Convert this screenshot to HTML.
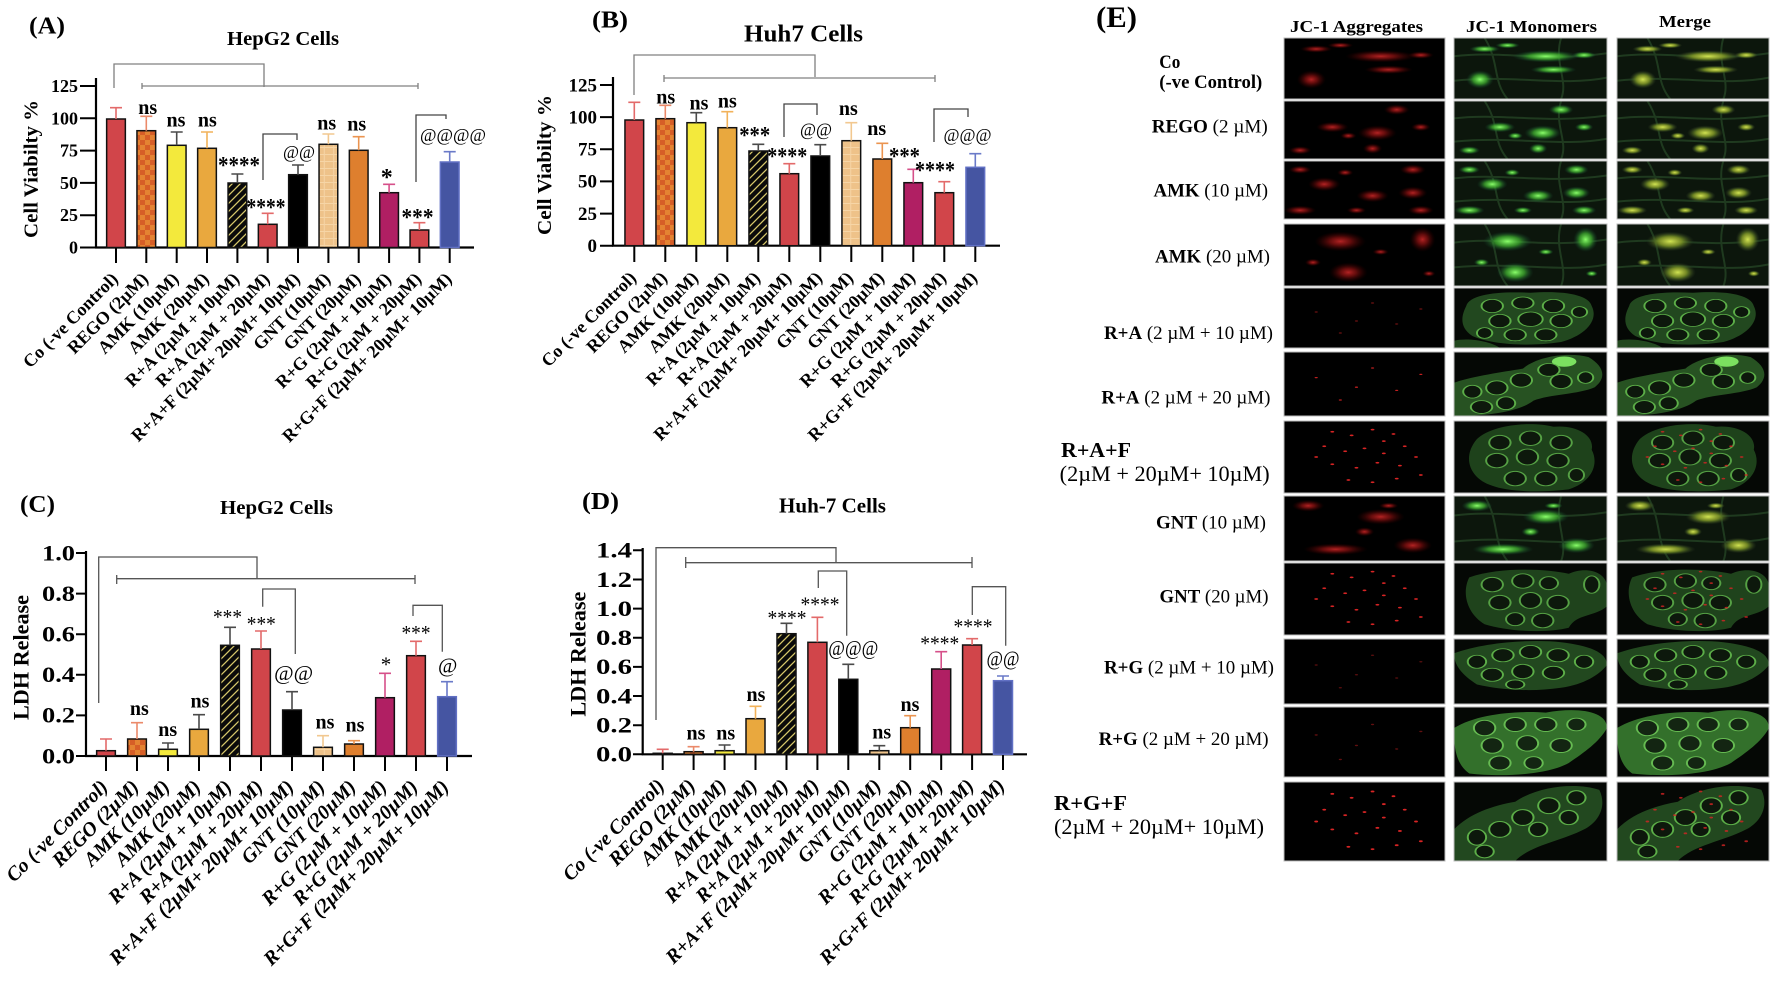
<!DOCTYPE html>
<html><head><meta charset="utf-8"><style>
html,body{margin:0;padding:0;background:#fff;}
svg{display:block;font-family:"Liberation Serif","DejaVu Serif",serif;}
</style></head><body>
<svg xmlns="http://www.w3.org/2000/svg" xmlns:xlink="http://www.w3.org/1999/xlink" width="1772" height="993" viewBox="0 0 1772 993">
<defs>
<pattern id="chk" patternUnits="userSpaceOnUse" width="10" height="10"><rect width="10" height="10" fill="#e48332"/><rect width="5" height="5" fill="#d65e27"/><rect x="5" y="5" width="5" height="5" fill="#d65e27"/></pattern>
<pattern id="hat" patternUnits="userSpaceOnUse" width="8" height="8"><rect width="8" height="8" fill="#0a0a0a"/><path d="M0,8 L8,0 M-1,1 L1,-1 M7,9 L9,7" stroke="#d6c76a" stroke-width="1.3"/></pattern>
<pattern id="tan" patternUnits="userSpaceOnUse" width="9.4" height="7"><rect width="9.4" height="7" fill="#eec289"/><path d="M0,0.5 H9.4 M4.7,0 V7" stroke="#f6d5a6" stroke-width="1"/></pattern>
<radialGradient id="gR"><stop offset="0" stop-color="#f03030"/><stop offset=".4" stop-color="#c01818" stop-opacity=".7"/><stop offset="1" stop-color="#500" stop-opacity="0"/></radialGradient>
<radialGradient id="gG"><stop offset="0" stop-color="#8aff6a"/><stop offset=".5" stop-color="#40b030" stop-opacity=".75"/><stop offset="1" stop-color="#143" stop-opacity="0"/></radialGradient>
<radialGradient id="gY"><stop offset="0" stop-color="#ffd040"/><stop offset=".45" stop-color="#d08020" stop-opacity=".7"/><stop offset="1" stop-color="#400" stop-opacity="0"/></radialGradient>

<symbol id="web" viewBox="0 0 100 100" preserveAspectRatio="none"><path d="M0,30 C30,20 60,40 100,25 M0,70 C40,60 70,80 100,65 M20,0 C30,40 25,70 35,100 M70,0 C65,40 75,70 70,100" stroke="#1f3a1f" stroke-width="2" fill="none" vector-effect="non-scaling-stroke"/></symbol>

<symbol id="sp1" viewBox="0 0 100 100" preserveAspectRatio="none"><ellipse cx="20" cy="18" rx="10" ry="6"/><ellipse cx="60" cy="30" rx="22" ry="10"/><ellipse cx="65" cy="52" rx="15" ry="7"/><ellipse cx="17" cy="68" rx="9" ry="15"/><ellipse cx="35" cy="12" rx="8" ry="5"/><ellipse cx="85" cy="28" rx="8" ry="6"/></symbol>
<symbol id="sp2" viewBox="0 0 100 100" preserveAspectRatio="none"><ellipse cx="70" cy="15" rx="8" ry="9"/><ellipse cx="30" cy="45" rx="10" ry="9"/><ellipse cx="58" cy="55" rx="12" ry="13"/><ellipse cx="55" cy="82" rx="6" ry="9"/><ellipse cx="85" cy="45" rx="6" ry="7"/><ellipse cx="10" cy="85" rx="7" ry="7"/><ellipse cx="40" cy="60" rx="5" ry="6"/></symbol>
<symbol id="sp3" viewBox="0 0 100 100" preserveAspectRatio="none"><ellipse cx="25" cy="40" rx="10" ry="12"/><ellipse cx="10" cy="15" rx="7" ry="7"/><ellipse cx="80" cy="15" rx="8" ry="9"/><ellipse cx="55" cy="60" rx="10" ry="11"/><ellipse cx="80" cy="55" rx="9" ry="11"/><ellipse cx="10" cy="85" rx="10" ry="8"/><ellipse cx="85" cy="85" rx="8" ry="8"/><ellipse cx="45" cy="85" rx="6" ry="6"/><ellipse cx="38" cy="20" rx="5" ry="6"/></symbol>
<symbol id="sp4" viewBox="0 0 100 100" preserveAspectRatio="none"><ellipse cx="35" cy="28" rx="16" ry="16"/><ellipse cx="86" cy="25" rx="8" ry="20"/><ellipse cx="40" cy="78" rx="12" ry="16"/><ellipse cx="18" cy="62" rx="5" ry="6"/><ellipse cx="60" cy="45" rx="5" ry="5"/><ellipse cx="90" cy="80" rx="4" ry="5"/></symbol>
<symbol id="sp8" viewBox="0 0 100 100" preserveAspectRatio="none"><ellipse cx="15" cy="15" rx="10" ry="9"/><ellipse cx="60" cy="32" rx="15" ry="12"/><ellipse cx="32" cy="82" rx="20" ry="9"/><ellipse cx="80" cy="76" rx="12" ry="12"/><ellipse cx="50" cy="55" rx="6" ry="7"/><ellipse cx="65" cy="15" rx="6" ry="5"/></symbol>

<symbol id="cl5" viewBox="0 0 100 100" preserveAspectRatio="none"><path d="M8,30 C10,10 30,5 50,8 C70,4 88,10 90,30 C95,55 85,80 70,90 C50,98 25,95 12,80 C3,65 5,45 8,30Z M0,88 C10,82 25,90 30,100 L0,100Z" fill="#22481f"/><g fill="#0d180c" stroke="#5cae48" stroke-width="1.3" vector-effect="non-scaling-stroke"><ellipse cx="25" cy="30" rx="7" ry="11"/><ellipse cx="45" cy="25" rx="7" ry="10"/><ellipse cx="65" cy="30" rx="7" ry="11"/><ellipse cx="30" cy="55" rx="7" ry="11"/><ellipse cx="50" cy="52" rx="8" ry="12"/><ellipse cx="70" cy="55" rx="7" ry="11"/><ellipse cx="40" cy="78" rx="7" ry="10"/><ellipse cx="60" cy="78" rx="7" ry="10"/><ellipse cx="20" cy="75" rx="5" ry="9"/><ellipse cx="82" cy="40" rx="5" ry="9"/></g></symbol>
<symbol id="cl6" viewBox="0 0 100 100" preserveAspectRatio="none"><path d="M0,48 C12,38 30,32 45,26 C55,6 75,0 88,8 C98,22 100,40 92,55 C82,66 62,66 52,76 C42,94 22,100 0,100Z" fill="#275222"/><ellipse cx="72" cy="15" rx="8" ry="8" fill="#7be060"/><g fill="#0d180c" stroke="#5cae48" stroke-width="1.3" vector-effect="non-scaling-stroke"><ellipse cx="12" cy="62" rx="6" ry="10"/><ellipse cx="28" cy="56" rx="7" ry="11"/><ellipse cx="44" cy="44" rx="7" ry="11"/><ellipse cx="62" cy="28" rx="7" ry="10"/><ellipse cx="70" cy="46" rx="7" ry="11"/><ellipse cx="18" cy="86" rx="7" ry="10"/><ellipse cx="34" cy="80" rx="6" ry="10"/><ellipse cx="86" cy="40" rx="5" ry="9"/></g></symbol>
<symbol id="cl7" viewBox="0 0 100 100" preserveAspectRatio="none"><path d="M15,25 C25,5 50,0 65,8 C80,5 92,20 90,40 C95,60 90,85 75,95 C55,100 35,98 25,90 C10,80 5,50 15,25Z" fill="#1e421b"/><g fill="#0d180c" stroke="#55a044" stroke-width="1.3" vector-effect="non-scaling-stroke"><ellipse cx="30" cy="30" rx="7" ry="10"/><ellipse cx="50" cy="24" rx="7" ry="10"/><ellipse cx="70" cy="30" rx="7" ry="10"/><ellipse cx="28" cy="55" rx="7" ry="10"/><ellipse cx="48" cy="50" rx="7" ry="11"/><ellipse cx="68" cy="55" rx="7" ry="10"/><ellipse cx="40" cy="80" rx="7" ry="10"/><ellipse cx="60" cy="80" rx="7" ry="10"/><ellipse cx="80" cy="75" rx="5" ry="9"/></g></symbol>
<symbol id="cl9" viewBox="0 0 100 100" preserveAspectRatio="none"><path d="M10,20 C30,5 60,8 75,15 C85,5 98,10 100,30 L100,60 C92,75 80,70 75,90 C60,98 35,95 20,85 C8,70 5,40 10,20Z" fill="#1f431c"/><g fill="#0d180c" stroke="#55a044" stroke-width="1.3" vector-effect="non-scaling-stroke"><ellipse cx="25" cy="30" rx="7" ry="10"/><ellipse cx="45" cy="25" rx="7" ry="10"/><ellipse cx="62" cy="28" rx="6" ry="9"/><ellipse cx="30" cy="55" rx="7" ry="10"/><ellipse cx="50" cy="52" rx="7" ry="11"/><ellipse cx="68" cy="55" rx="7" ry="10"/><ellipse cx="40" cy="78" rx="6" ry="9"/><ellipse cx="58" cy="80" rx="7" ry="10"/><ellipse cx="90" cy="30" rx="5" ry="12"/></g></symbol>
<symbol id="cl10" viewBox="0 0 100 100" preserveAspectRatio="none"><path d="M0,22 C20,5 50,0 70,5 C88,10 100,20 100,40 C95,55 85,70 70,75 C50,82 30,78 15,70 C5,55 0,40 0,22Z" fill="#22481f"/><g fill="#0d180c" stroke="#5cae48" stroke-width="1.3" vector-effect="non-scaling-stroke"><ellipse cx="15" cy="35" rx="6" ry="10"/><ellipse cx="32" cy="25" rx="7" ry="10"/><ellipse cx="50" cy="20" rx="7" ry="10"/><ellipse cx="68" cy="25" rx="7" ry="10"/><ellipse cx="85" cy="35" rx="6" ry="10"/><ellipse cx="25" cy="55" rx="7" ry="10"/><ellipse cx="45" cy="50" rx="7" ry="11"/><ellipse cx="65" cy="52" rx="7" ry="10"/><ellipse cx="40" cy="70" rx="6" ry="7"/></g></symbol>
<symbol id="cl11" viewBox="0 0 100 100" preserveAspectRatio="none"><path d="M0,30 C15,10 40,5 60,8 C80,0 100,5 100,30 C95,50 85,65 75,80 C60,98 30,100 10,95 C0,80 0,50 0,30Z" fill="#33702b"/><g fill="#132512" stroke="#66bb52" stroke-width="1.3" vector-effect="non-scaling-stroke"><ellipse cx="20" cy="30" rx="7" ry="11"/><ellipse cx="40" cy="25" rx="7" ry="10"/><ellipse cx="60" cy="25" rx="7" ry="10"/><ellipse cx="80" cy="25" rx="6" ry="9"/><ellipse cx="25" cy="55" rx="7" ry="11"/><ellipse cx="48" cy="52" rx="7" ry="11"/><ellipse cx="70" cy="55" rx="7" ry="10"/><ellipse cx="30" cy="80" rx="7" ry="10"/><ellipse cx="52" cy="80" rx="6" ry="9"/></g></symbol>
<symbol id="cl12" viewBox="0 0 100 100" preserveAspectRatio="none"><path d="M0,60 C10,40 25,30 40,25 C55,5 80,0 95,10 C100,30 95,50 85,60 C70,75 50,80 40,100 L0,100Z" fill="#22481f"/><g fill="#0d180c" stroke="#5cae48" stroke-width="1.3" vector-effect="non-scaling-stroke"><ellipse cx="15" cy="70" rx="6" ry="10"/><ellipse cx="30" cy="60" rx="7" ry="10"/><ellipse cx="45" cy="45" rx="7" ry="10"/><ellipse cx="62" cy="30" rx="7" ry="10"/><ellipse cx="80" cy="20" rx="6" ry="9"/><ellipse cx="75" cy="45" rx="6" ry="9"/><ellipse cx="20" cy="88" rx="6" ry="8"/><ellipse cx="55" cy="60" rx="6" ry="9"/></g></symbol>

<symbol id="rdF" viewBox="0 0 100 100" preserveAspectRatio="none"><g fill="#c42020"><circle cx="20" cy="40" r="1"/><circle cx="55" cy="25" r="1"/><circle cx="70" cy="60" r="1"/><circle cx="35" cy="75" r="1"/><circle cx="85" cy="35" r="1"/><circle cx="45" cy="55" r="1"/></g></symbol>
<symbol id="rdM" viewBox="0 0 100 100" preserveAspectRatio="none"><g fill="#d82424"><circle cx="30" cy="15" r="1.2"/><circle cx="42" cy="20" r="1.2"/><circle cx="55" cy="12" r="1.2"/><circle cx="68" cy="18" r="1.2"/><circle cx="25" cy="35" r="1.2"/><circle cx="38" cy="42" r="1.2"/><circle cx="50" cy="38" r="1.2"/><circle cx="62" cy="45" r="1.2"/><circle cx="75" cy="35" r="1.2"/><circle cx="30" cy="60" r="1.2"/><circle cx="45" cy="65" r="1.2"/><circle cx="58" cy="58" r="1.2"/><circle cx="72" cy="62" r="1.2"/><circle cx="82" cy="50" r="1.2"/><circle cx="40" cy="82" r="1.2"/><circle cx="55" cy="85" r="1.2"/><circle cx="70" cy="80" r="1.2"/><circle cx="85" cy="75" r="1.2"/><circle cx="20" cy="50" r="1.2"/><circle cx="62" cy="28" r="1.2"/></g></symbol>
</defs>

<rect width="1772" height="993" fill="#fff"/>

<!-- ================= PANEL A ================= -->
<text x="29" y="33.5" font-size="24" font-weight="bold" textLength="36" lengthAdjust="spacingAndGlyphs">(A)</text>
<text x="283" y="45" font-size="20" font-weight="bold" text-anchor="middle" textLength="112" lengthAdjust="spacingAndGlyphs">HepG2 Cells</text>
<text transform="translate(37.5,169) rotate(-90)" font-size="20" font-weight="bold" text-anchor="middle" textLength="138" lengthAdjust="spacingAndGlyphs">Cell Viabilty %</text>
<g font-size="18" font-weight="bold" text-anchor="end">
<text x="78" y="253.5">0</text><text x="78" y="221.2">25</text><text x="78" y="188.9">50</text><text x="78" y="156.6">75</text><text x="78" y="124.3">100</text><text x="78" y="92">125</text>
</g>
<g stroke="#000" stroke-width="2" fill="none">
<path d="M80,247.5H96 M80,215.2H96 M80,182.9H96 M80,150.6H96 M80,118.3H96 M80,86H96"/>
<path d="M96,78 V248.5 M95,247.5 H474" stroke-width="2.2"/>
<path d="M116,248V263 M146.3,248V263 M176.7,248V263 M207,248V263 M237.4,248V263 M267.7,248V263 M298,248V263 M328.4,248V263 M358.7,248V263 M389.1,248V263 M419.4,248V263 M449.7,248V263"/>
</g>
<g stroke="#111" stroke-width="1.5">
<rect x="106.65" y="119" width="18.7" height="128.5" fill="#d1454a"/>
<rect x="136.95" y="130.7" width="18.7" height="116.8" fill="url(#chk)"/>
<rect x="167.35" y="145.3" width="18.7" height="102.2" fill="#f3e93c"/>
<rect x="197.65" y="148.3" width="18.7" height="99.2" fill="#e9a83e"/>
<rect x="228.05" y="183" width="18.7" height="64.5" fill="url(#hat)"/>
<rect x="258.35" y="224.3" width="18.7" height="23.2" fill="#d1454a"/>
<rect x="288.65" y="174.7" width="18.7" height="72.8" fill="#000"/>
<rect x="319.05" y="144.3" width="18.7" height="103.2" fill="url(#tan)"/>
<rect x="349.35" y="150.3" width="18.7" height="97.2" fill="#de7f2e"/>
<rect x="379.75" y="192.7" width="18.7" height="54.8" fill="#b01f63"/>
<rect x="410.05" y="230" width="18.7" height="17.5" fill="#d1454a"/>
<rect x="440.35" y="162" width="18.7" height="85.5" fill="#4555a2" stroke="#6170c4"/>
</g>
<g stroke-width="1.6" fill="none">
<path d="M116,119V107.7 M110,107.7H122" stroke="#e36a6a"/>
<path d="M146.3,130.7V116.3 M140.3,116.3H152.3" stroke="#eb8a6a"/>
<path d="M176.7,145.3V132 M170.7,132H182.7" stroke="#4a4a4a"/>
<path d="M207,148.3V132 M201,132H213" stroke="#f2b25a"/>
<path d="M237.4,183V174 M231.4,174H243.4" stroke="#4a4a4a"/>
<path d="M267.7,224.3V213.3 M261.7,213.3H273.7" stroke="#e36a6a"/>
<path d="M298,174.7V165 M292,165H304" stroke="#4a4a4a"/>
<path d="M328.4,144.3V134 M322.4,134H334.4" stroke="#f2c890"/>
<path d="M358.7,150.3V136.7 M352.7,136.7H364.7" stroke="#eb9450"/>
<path d="M389.1,192.7V184.3 M383.1,184.3H395.1" stroke="#d6508a"/>
<path d="M419.4,230V222.7 M413.4,222.7H425.4" stroke="#e36a6a"/>
<path d="M449.7,162V151.7 M443.7,151.7H455.7" stroke="#6a7ac8"/>
</g>
<g fill="none" stroke-width="1.3">
<path d="M114,88V64H264V87" stroke="#808080"/>
<path d="M142,86H418 M142,83V89 M418,83V89" stroke="#808080"/>
<path d="M263,180V134H297V140" stroke="#444"/>
<path d="M416,182V115H446V119" stroke="#444"/>
</g>
<g font-size="20" font-weight="bold" text-anchor="middle">
<text x="147.7" y="114">ns</text><text x="176" y="126.7">ns</text><text x="207.3" y="126.7">ns</text><text x="326.7" y="129.3">ns</text><text x="356.7" y="130.7">ns</text>
</g>
<g font-size="24" font-weight="bold" text-anchor="middle">
<text x="239" y="173.2" textLength="42" lengthAdjust="spacingAndGlyphs">****</text>
<text x="266" y="214.8" textLength="39" lengthAdjust="spacingAndGlyphs">****</text>
<text x="386.7" y="184.8">*</text>
<text x="417.5" y="224.8" textLength="32" lengthAdjust="spacingAndGlyphs">***</text>
</g>
<g font-size="18" text-anchor="middle">
<text x="299" y="157.8" textLength="32" lengthAdjust="spacingAndGlyphs">@@</text>
<text x="453" y="141.2" textLength="66" lengthAdjust="spacingAndGlyphs">@@@@</text>
</g>
<g font-size="18" font-weight="bold" text-anchor="end">
<text transform="translate(119,280) rotate(-45)">Co (-ve Control)</text>
<text transform="translate(149.3,280) rotate(-45)">REGO (2µM)</text>
<text transform="translate(179.7,280) rotate(-45)">AMK (10µM)</text>
<text transform="translate(210,280) rotate(-45)">AMK (20µM)</text>
<text transform="translate(240.4,280) rotate(-45)">R+A (2µM + 10µM)</text>
<text transform="translate(270.7,280) rotate(-45)">R+A (2µM + 20µM)</text>
<text transform="translate(301,280) rotate(-45)">R+A+F (2µM+ 20µM+ 10µM)</text>
<text transform="translate(331.4,280) rotate(-45)">GNT (10µM)</text>
<text transform="translate(361.7,280) rotate(-45)">GNT (20µM)</text>
<text transform="translate(392.1,280) rotate(-45)">R+G (2µM + 10µM)</text>
<text transform="translate(422.4,280) rotate(-45)">R+G (2µM + 20µM)</text>
<text transform="translate(452.7,280) rotate(-45)">R+G+F (2µM+ 20µM+ 10µM)</text>
</g>

<!-- ================= PANEL B ================= -->
<text x="592" y="27.5" font-size="24" font-weight="bold" textLength="36" lengthAdjust="spacingAndGlyphs">(B)</text>
<text x="803.5" y="41.5" font-size="24" font-weight="bold" text-anchor="middle" textLength="119" lengthAdjust="spacingAndGlyphs">Huh7 Cells</text>
<text transform="translate(551,165) rotate(-90)" font-size="20" font-weight="bold" text-anchor="middle" textLength="140" lengthAdjust="spacingAndGlyphs">Cell Viabilty %</text>
<g font-size="19" font-weight="bold" text-anchor="end">
<text x="597" y="252">0</text><text x="597" y="219.9">25</text><text x="597" y="187.7">50</text><text x="597" y="155.6">75</text><text x="597" y="123.4">100</text><text x="597" y="91.3">125</text>
</g>
<g stroke="#000" stroke-width="2" fill="none">
<path d="M600,245.7H613 M600,213.6H613 M600,181.4H613 M600,149.3H613 M600,117.1H613 M600,85H613"/>
<path d="M613,77 V246.8 M612,245.7 H1000" stroke-width="2.2"/>
<path d="M634.3,246V262 M665.3,246V262 M696.3,246V262 M727.3,246V262 M758.3,246V262 M789.3,246V262 M820.3,246V262 M851.3,246V262 M882.3,246V262 M913.3,246V262 M944.3,246V262 M975.3,246V262"/>
</g>
<g stroke="#111" stroke-width="1.5">
<rect x="624.95" y="120" width="18.7" height="125.7" fill="#d1454a"/>
<rect x="655.95" y="118.7" width="18.7" height="127" fill="url(#chk)"/>
<rect x="686.95" y="122.7" width="18.7" height="123" fill="#f3e93c"/>
<rect x="717.95" y="127.7" width="18.7" height="118" fill="#e9a83e"/>
<rect x="748.95" y="151" width="18.7" height="94.7" fill="url(#hat)"/>
<rect x="779.95" y="173.7" width="18.7" height="72" fill="#d1454a"/>
<rect x="810.95" y="156" width="18.7" height="89.7" fill="#000"/>
<rect x="841.95" y="140.7" width="18.7" height="105" fill="url(#tan)"/>
<rect x="872.95" y="159" width="18.7" height="86.7" fill="#de7f2e"/>
<rect x="903.95" y="182.7" width="18.7" height="63" fill="#b01f63"/>
<rect x="934.95" y="192.7" width="18.7" height="53" fill="#d1454a"/>
<rect x="965.95" y="167.3" width="18.7" height="78.4" fill="#4555a2" stroke="#6170c4"/>
</g>
<g stroke-width="1.6" fill="none">
<path d="M634.3,120V102.3 M628.3,102.3H640.3" stroke="#e36a6a"/>
<path d="M665.3,118.7V105.3 M659.3,105.3H671.3" stroke="#eb8a6a"/>
<path d="M696.3,122.7V112.7 M690.3,112.7H702.3" stroke="#4a4a4a"/>
<path d="M727.3,127.7V111.7 M721.3,111.7H733.3" stroke="#f2b25a"/>
<path d="M758.3,151V144.3 M752.3,144.3H764.3" stroke="#4a4a4a"/>
<path d="M789.3,173.7V163.7 M783.3,163.7H795.3" stroke="#e36a6a"/>
<path d="M820.3,156V144.7 M814.3,144.7H826.3" stroke="#4a4a4a"/>
<path d="M851.3,140.7V122.7 M845.3,122.7H857.3" stroke="#f2c890"/>
<path d="M882.3,159V143.3 M876.3,143.3H888.3" stroke="#eb9450"/>
<path d="M913.3,182.7V169.3 M907.3,169.3H919.3" stroke="#d6508a"/>
<path d="M944.3,192.7V181.7 M938.3,181.7H950.3" stroke="#e36a6a"/>
<path d="M975.3,167.3V153.7 M969.3,153.7H981.3" stroke="#6a7ac8"/>
</g>
<g fill="none" stroke-width="1.3">
<path d="M634,95V55H815V77" stroke="#808080"/>
<path d="M664,78H935 M664,75V82 M935,75V82" stroke="#808080"/>
<path d="M784,137V104H817V115" stroke="#444"/>
<path d="M934,142V109H968V117" stroke="#444"/>
</g>
<g font-size="20" font-weight="bold" text-anchor="middle">
<text x="665.7" y="103.3">ns</text><text x="699" y="109.3">ns</text><text x="727.3" y="107.3">ns</text><text x="848.3" y="115">ns</text><text x="876.7" y="135">ns</text>
</g>
<g font-size="24" font-weight="bold" text-anchor="middle">
<text x="754.7" y="143.2" textLength="31" lengthAdjust="spacingAndGlyphs">***</text>
<text x="787.3" y="164.2" textLength="40" lengthAdjust="spacingAndGlyphs">****</text>
<text x="904.5" y="164.2" textLength="31" lengthAdjust="spacingAndGlyphs">***</text>
<text x="935" y="178.2" textLength="40" lengthAdjust="spacingAndGlyphs">****</text>
</g>
<g font-size="18" text-anchor="middle">
<text x="816" y="135.5" textLength="32" lengthAdjust="spacingAndGlyphs">@@</text>
<text x="967.5" y="141.2" textLength="48" lengthAdjust="spacingAndGlyphs">@@@</text>
</g>
<g font-size="18" font-weight="bold" text-anchor="end">
<text transform="translate(637.3,279) rotate(-45)">Co (-ve Control)</text>
<text transform="translate(668.3,279) rotate(-45)">REGO (2µM)</text>
<text transform="translate(699.3,279) rotate(-45)">AMK (10µM)</text>
<text transform="translate(730.3,279) rotate(-45)">AMK (20µM)</text>
<text transform="translate(761.3,279) rotate(-45)">R+A (2µM + 10µM)</text>
<text transform="translate(792.3,279) rotate(-45)">R+A (2µM + 20µM)</text>
<text transform="translate(823.3,279) rotate(-45)">R+A+F (2µM+ 20µM+ 10µM)</text>
<text transform="translate(854.3,279) rotate(-45)">GNT (10µM)</text>
<text transform="translate(885.3,279) rotate(-45)">GNT (20µM)</text>
<text transform="translate(916.3,279) rotate(-45)">R+G (2µM + 10µM)</text>
<text transform="translate(947.3,279) rotate(-45)">R+G (2µM + 20µM)</text>
<text transform="translate(978.3,279) rotate(-45)">R+G+F (2µM+ 20µM+ 10µM)</text>
</g>

<!-- ================= PANEL C ================= -->
<text x="20" y="512" font-size="24" font-weight="bold" textLength="35" lengthAdjust="spacingAndGlyphs">(C)</text>
<text x="276.5" y="514" font-size="20" font-weight="bold" text-anchor="middle" textLength="113" lengthAdjust="spacingAndGlyphs">HepG2 Cells</text>
<text transform="translate(28.5,657.5) rotate(-90)" font-size="22" font-weight="bold" text-anchor="middle" textLength="125" lengthAdjust="spacingAndGlyphs">LDH Release</text>
<g font-size="22" font-weight="bold" text-anchor="end">
<text x="75" y="763.3" textLength="33" lengthAdjust="spacingAndGlyphs">0.0</text>
<text x="75" y="722.7" textLength="33" lengthAdjust="spacingAndGlyphs">0.2</text>
<text x="75" y="682.1" textLength="33" lengthAdjust="spacingAndGlyphs">0.4</text>
<text x="75" y="641.5" textLength="33" lengthAdjust="spacingAndGlyphs">0.6</text>
<text x="75" y="600.9" textLength="33" lengthAdjust="spacingAndGlyphs">0.8</text>
<text x="75" y="560.3" textLength="33" lengthAdjust="spacingAndGlyphs">1.0</text>
</g>
<g stroke="#000" stroke-width="2" fill="none">
<path d="M76,756H86 M76,715.4H86 M76,674.8H86 M76,634.2H86 M76,593.6H86 M76,553H86"/>
<path d="M86,551 V757 M85,756 H472" stroke-width="2.2"/>
<path d="M106,756V771 M137,756V771 M168,756V771 M199,756V771 M230,756V771 M261,756V771 M292,756V771 M323,756V771 M354,756V771 M385,756V771 M416,756V771 M447,756V771"/>
</g>
<g stroke="#111" stroke-width="1.5">
<rect x="96.65" y="750.7" width="18.7" height="5.3" fill="#d1454a"/>
<rect x="127.65" y="739" width="18.7" height="17" fill="url(#chk)"/>
<rect x="158.65" y="749.3" width="18.7" height="6.7" fill="#f3e93c"/>
<rect x="189.65" y="729.3" width="18.7" height="26.7" fill="#e9a83e"/>
<rect x="220.65" y="645.3" width="18.7" height="110.7" fill="url(#hat)"/>
<rect x="251.65" y="649" width="18.7" height="107" fill="#d1454a"/>
<rect x="282.65" y="710" width="18.7" height="46" fill="#000"/>
<rect x="313.65" y="747.3" width="18.7" height="8.7" fill="url(#tan)"/>
<rect x="344.65" y="744" width="18.7" height="12" fill="#de7f2e"/>
<rect x="375.65" y="697.7" width="18.7" height="58.3" fill="#b01f63"/>
<rect x="406.65" y="655.7" width="18.7" height="100.3" fill="#d1454a"/>
<rect x="437.65" y="696.7" width="18.7" height="59.3" fill="#4555a2" stroke="#6170c4"/>
</g>
<g stroke-width="1.6" fill="none">
<path d="M106,750.7V739 M100,739H112" stroke="#e36a6a"/>
<path d="M137,739V722.7 M131,722.7H143" stroke="#eb8a6a"/>
<path d="M168,749.3V743 M162,743H174" stroke="#4a4a4a"/>
<path d="M199,729.3V714.7 M193,714.7H205" stroke="#4a4a4a"/>
<path d="M230,645.3V627.3 M224,627.3H236" stroke="#4a4a4a"/>
<path d="M261,649V631 M255,631H267" stroke="#e36a6a"/>
<path d="M292,710V691.7 M286,691.7H298" stroke="#4a4a4a"/>
<path d="M323,747.3V735.7 M317,735.7H329" stroke="#f2c890"/>
<path d="M354,744V740.7 M348,740.7H360" stroke="#eb9450"/>
<path d="M385,697.7V673.3 M379,673.3H391" stroke="#d6508a"/>
<path d="M416,655.7V641.3 M410,641.3H422" stroke="#e36a6a"/>
<path d="M447,696.7V681.7 M441,681.7H453" stroke="#6a7ac8"/>
</g>
<g fill="none" stroke-width="1.3" stroke="#555">
<path d="M98.7,703V557H257V579"/>
<path d="M116.7,578.7H415 M116.7,575V584 M415,575V584"/>
<path d="M262.7,606.7V589H295.3V654"/>
<path d="M413,616V605.3H442.3V651.7"/>
</g>
<g font-size="20" font-weight="bold" text-anchor="middle">
<text x="139.3" y="715">ns</text><text x="167.7" y="736">ns</text><text x="200" y="707.7">ns</text><text x="325" y="728.3">ns</text><text x="355" y="731.7">ns</text>
</g>
<g font-size="21" text-anchor="middle">
<text x="227.5" y="624" textLength="29" lengthAdjust="spacingAndGlyphs">***</text>
<text x="261.3" y="631" textLength="29" lengthAdjust="spacingAndGlyphs">***</text>
<text x="416" y="640" textLength="29" lengthAdjust="spacingAndGlyphs">***</text>
<text x="386" y="671.7">*</text>
<text x="293.7" y="680" textLength="39" lengthAdjust="spacingAndGlyphs">@@</text>
<text x="447.7" y="672.7">@</text>
</g>
<g font-size="20" font-weight="bold" font-style="italic" text-anchor="end">
<text transform="translate(109,788) rotate(-45)">Co (-ve Control)</text>
<text transform="translate(140,788) rotate(-45)">REGO (2µM)</text>
<text transform="translate(171,788) rotate(-45)">AMK (10µM)</text>
<text transform="translate(202,788) rotate(-45)">AMK (20µM)</text>
<text transform="translate(233,788) rotate(-45)">R+A (2µM + 10µM)</text>
<text transform="translate(264,788) rotate(-45)">R+A (2µM + 20µM)</text>
<text transform="translate(295,788) rotate(-45)">R+A+F (2µM+ 20µM+ 10µM)</text>
<text transform="translate(326,788) rotate(-45)">GNT (10µM)</text>
<text transform="translate(357,788) rotate(-45)">GNT (20µM)</text>
<text transform="translate(388,788) rotate(-45)">R+G (2µM + 10µM)</text>
<text transform="translate(419,788) rotate(-45)">R+G (2µM + 20µM)</text>
<text transform="translate(450,788) rotate(-45)">R+G+F (2µM+ 20µM+ 10µM)</text>
</g>

<!-- ================= PANEL D ================= -->
<text x="582" y="509" font-size="24" font-weight="bold" textLength="37" lengthAdjust="spacingAndGlyphs">(D)</text>
<text x="832.5" y="512.5" font-size="21" font-weight="bold" text-anchor="middle" textLength="107" lengthAdjust="spacingAndGlyphs">Huh-7 Cells</text>
<text transform="translate(585.5,654.2) rotate(-90)" font-size="22" font-weight="bold" text-anchor="middle" textLength="125" lengthAdjust="spacingAndGlyphs">LDH Release</text>
<g font-size="22" font-weight="bold" text-anchor="end">
<text x="632" y="761.6" textLength="36" lengthAdjust="spacingAndGlyphs">0.0</text>
<text x="632" y="732.5" textLength="36" lengthAdjust="spacingAndGlyphs">0.2</text>
<text x="632" y="703.3" textLength="36" lengthAdjust="spacingAndGlyphs">0.4</text>
<text x="632" y="674.2" textLength="36" lengthAdjust="spacingAndGlyphs">0.6</text>
<text x="632" y="645" textLength="36" lengthAdjust="spacingAndGlyphs">0.8</text>
<text x="632" y="615.9" textLength="36" lengthAdjust="spacingAndGlyphs">1.0</text>
<text x="632" y="586.8" textLength="36" lengthAdjust="spacingAndGlyphs">1.2</text>
<text x="632" y="557.6" textLength="36" lengthAdjust="spacingAndGlyphs">1.4</text>
</g>
<g stroke="#000" stroke-width="2" fill="none">
<path d="M633,754.3H643 M633,725.2H643 M633,696H643 M633,666.9H643 M633,637.7H643 M633,608.6H643 M633,579.5H643 M633,550.3H643"/>
<path d="M642.7,548 V755.3 M641.7,754.3 H1027" stroke-width="2.2"/>
<path d="M662.7,754V770 M693.6,754V770 M724.6,754V770 M755.5,754V770 M786.5,754V770 M817.4,754V770 M848.3,754V770 M879.3,754V770 M910.2,754V770 M941.2,754V770 M972.1,754V770 M1003,754V770"/>
</g>
<g stroke="#111" stroke-width="1.5">
<rect x="653.2" y="753.3" width="19" height="1" fill="#d1454a"/>
<rect x="684.1" y="751.7" width="19" height="2.6" fill="url(#chk)"/>
<rect x="715.1" y="750.7" width="19" height="3.6" fill="#f3e93c"/>
<rect x="746" y="718.7" width="19" height="35.6" fill="#e9a83e"/>
<rect x="777" y="633.7" width="19" height="120.6" fill="url(#hat)"/>
<rect x="807.9" y="642.3" width="19" height="112" fill="#d1454a"/>
<rect x="838.8" y="679.3" width="19" height="75" fill="#000"/>
<rect x="869.8" y="750.7" width="19" height="3.6" fill="url(#tan)"/>
<rect x="900.7" y="727.7" width="19" height="26.6" fill="#de7f2e"/>
<rect x="931.7" y="669" width="19" height="85.3" fill="#b01f63"/>
<rect x="962.6" y="645" width="19" height="109.3" fill="#d1454a"/>
<rect x="993.5" y="680.7" width="19" height="73.6" fill="#4555a2" stroke="#6170c4"/>
</g>
<g stroke-width="1.6" fill="none">
<path d="M662.7,753.3V749.3 M656.7,749.3H668.7" stroke="#e36a6a"/>
<path d="M693.6,751.7V746.7 M687.6,746.7H699.6" stroke="#eb8a6a"/>
<path d="M724.6,750.7V745 M718.6,745H730.6" stroke="#4a4a4a"/>
<path d="M755.5,718.7V706.3 M749.5,706.3H761.5" stroke="#f2b25a"/>
<path d="M786.5,633.7V623.3 M780.5,623.3H792.5" stroke="#4a4a4a"/>
<path d="M817.4,642.3V617.3 M811.4,617.3H823.4" stroke="#e36a6a"/>
<path d="M848.3,679.3V664.3 M842.3,664.3H854.3" stroke="#4a4a4a"/>
<path d="M879.3,750.7V745.7 M873.3,745.7H885.3" stroke="#4a4a4a"/>
<path d="M910.2,727.7V715.7 M904.2,715.7H916.2" stroke="#eb9450"/>
<path d="M941.2,669V651.7 M935.2,651.7H947.2" stroke="#d6508a"/>
<path d="M972.1,645V638.7 M966.1,638.7H978.1" stroke="#e36a6a"/>
<path d="M1003,680.7V676 M997,676H1009" stroke="#6a7ac8"/>
</g>
<g fill="none" stroke-width="1.3" stroke="#555">
<path d="M656,720V547.7H836V563"/>
<path d="M685.7,562.7H972 M685.7,557V568 M972,557V568"/>
<path d="M818.3,588V571H846.7V635.7"/>
<path d="M972.3,615V586.7H1005.7V645.7"/>
</g>
<g font-size="20" font-weight="bold" text-anchor="middle">
<text x="696" y="739.3">ns</text><text x="725.7" y="739.3">ns</text><text x="756" y="701">ns</text><text x="881.7" y="738.3">ns</text><text x="910" y="711">ns</text>
</g>
<g font-size="21" text-anchor="middle">
<text x="787" y="625" textLength="39" lengthAdjust="spacingAndGlyphs">****</text>
<text x="820" y="611.7" textLength="39" lengthAdjust="spacingAndGlyphs">****</text>
<text x="939.7" y="650.7" textLength="39" lengthAdjust="spacingAndGlyphs">****</text>
<text x="973" y="633.3" textLength="39" lengthAdjust="spacingAndGlyphs">****</text>
<text x="853.3" y="655" textLength="50" lengthAdjust="spacingAndGlyphs">@@@</text>
<text x="1003" y="665.7" textLength="33" lengthAdjust="spacingAndGlyphs">@@</text>
</g>
<g font-size="20" font-weight="bold" font-style="italic" text-anchor="end">
<text transform="translate(665.7,787) rotate(-45)">Co (-ve Control)</text>
<text transform="translate(696.6,787) rotate(-45)">REGO (2µM)</text>
<text transform="translate(727.6,787) rotate(-45)">AMK (10µM)</text>
<text transform="translate(758.5,787) rotate(-45)">AMK (20µM)</text>
<text transform="translate(789.5,787) rotate(-45)">R+A (2µM + 10µM)</text>
<text transform="translate(820.4,787) rotate(-45)">R+A (2µM + 20µM)</text>
<text transform="translate(851.3,787) rotate(-45)">R+A+F (2µM+ 20µM+ 10µM)</text>
<text transform="translate(882.3,787) rotate(-45)">GNT (10µM)</text>
<text transform="translate(913.2,787) rotate(-45)">GNT (20µM)</text>
<text transform="translate(944.2,787) rotate(-45)">R+G (2µM + 10µM)</text>
<text transform="translate(975.1,787) rotate(-45)">R+G (2µM + 20µM)</text>
<text transform="translate(1006,787) rotate(-45)">R+G+F (2µM+ 20µM+ 10µM)</text>
</g>

<!-- ================= PANEL E ================= -->
<text x="1096" y="27" font-size="30" font-weight="bold" textLength="41" lengthAdjust="spacingAndGlyphs">(E)</text>
<g font-size="17" font-weight="bold">
<text x="1290" y="32" textLength="133" lengthAdjust="spacingAndGlyphs">JC-1 Aggregates</text>
<text x="1466" y="32" textLength="131" lengthAdjust="spacingAndGlyphs">JC-1 Monomers</text>
<text x="1659" y="27" textLength="52" lengthAdjust="spacingAndGlyphs">Merge</text>
</g>
<g font-size="19">
<text x="1159.3" y="68" font-weight="bold" textLength="21" lengthAdjust="spacingAndGlyphs">Co</text>
<text x="1159.3" y="88" font-weight="bold" textLength="103" lengthAdjust="spacingAndGlyphs">(-ve Control)</text>
<text x="1151.7" y="132.5" textLength="116" lengthAdjust="spacingAndGlyphs"><tspan font-weight="bold">REGO</tspan> (2 µM)</text>
<text x="1153.5" y="196.5" textLength="114.5" lengthAdjust="spacingAndGlyphs"><tspan font-weight="bold">AMK</tspan> (10 µM)</text>
<text x="1155" y="262.5" textLength="115" lengthAdjust="spacingAndGlyphs"><tspan font-weight="bold">AMK</tspan> (20 µM)</text>
<text x="1104" y="339" textLength="169" lengthAdjust="spacingAndGlyphs"><tspan font-weight="bold">R+A</tspan> (2 µM + 10 µM)</text>
<text x="1101.4" y="403.5" textLength="169" lengthAdjust="spacingAndGlyphs"><tspan font-weight="bold">R+A</tspan> (2 µM + 20 µM)</text>
<text x="1061" y="457" font-size="21" font-weight="bold" textLength="70" lengthAdjust="spacingAndGlyphs">R+A+F</text>
<text x="1059.7" y="481" font-size="22" textLength="210" lengthAdjust="spacingAndGlyphs">(2µM + 20µM+ 10µM)</text>
<text x="1156" y="528.5" textLength="110" lengthAdjust="spacingAndGlyphs"><tspan font-weight="bold">GNT</tspan> (10 µM)</text>
<text x="1159.5" y="602.5" textLength="109" lengthAdjust="spacingAndGlyphs"><tspan font-weight="bold">GNT</tspan> (20 µM)</text>
<text x="1104" y="673.5" textLength="170" lengthAdjust="spacingAndGlyphs"><tspan font-weight="bold">R+G</tspan> (2 µM + 10 µM)</text>
<text x="1098.6" y="745" textLength="170" lengthAdjust="spacingAndGlyphs"><tspan font-weight="bold">R+G</tspan> (2 µM + 20 µM)</text>
<text x="1054" y="810" font-size="21" font-weight="bold" textLength="73" lengthAdjust="spacingAndGlyphs">R+G+F</text>
<text x="1054" y="834" font-size="22" textLength="210" lengthAdjust="spacingAndGlyphs">(2µM + 20µM+ 10µM)</text>
</g>

<!-- tiles: spread rows -->
<g>
<rect x="1284" y="38" width="161" height="61" fill="#000"/><use href="#sp1" x="1284" y="38" width="161" height="61" fill="url(#gR)" opacity=".75"/>
<rect x="1454" y="38" width="153" height="61" fill="#0c160c"/><use href="#web" x="1454" y="38" width="153" height="61"/><use href="#sp1" x="1454" y="38" width="153" height="61" fill="url(#gG)"/>
<rect x="1617" y="38" width="152" height="61" fill="#0c160c"/><use href="#web" x="1617" y="38" width="152" height="61"/><use href="#sp1" x="1617" y="38" width="152" height="61" fill="url(#gG)"/><use href="#sp1" x="1617" y="38" width="152" height="61" fill="url(#gY)" opacity=".6"/>

<rect x="1284" y="101" width="161" height="58" fill="#000"/><use href="#sp2" x="1284" y="101" width="161" height="58" fill="url(#gR)" opacity=".75"/>
<rect x="1454" y="101" width="153" height="58" fill="#0c160c"/><use href="#web" x="1454" y="101" width="153" height="58"/><use href="#sp2" x="1454" y="101" width="153" height="58" fill="url(#gG)"/>
<rect x="1617" y="101" width="152" height="58" fill="#0c160c"/><use href="#web" x="1617" y="101" width="152" height="58"/><use href="#sp2" x="1617" y="101" width="152" height="58" fill="url(#gG)"/><use href="#sp2" x="1617" y="101" width="152" height="58" fill="url(#gY)" opacity=".6"/>

<rect x="1284" y="161" width="161" height="58" fill="#000"/><use href="#sp3" x="1284" y="161" width="161" height="58" fill="url(#gR)" opacity=".75"/>
<rect x="1454" y="161" width="153" height="58" fill="#0c160c"/><use href="#web" x="1454" y="161" width="153" height="58"/><use href="#sp3" x="1454" y="161" width="153" height="58" fill="url(#gG)"/>
<rect x="1617" y="161" width="152" height="58" fill="#0c160c"/><use href="#web" x="1617" y="161" width="152" height="58"/><use href="#sp3" x="1617" y="161" width="152" height="58" fill="url(#gG)"/><use href="#sp3" x="1617" y="161" width="152" height="58" fill="url(#gY)" opacity=".6"/>

<rect x="1284" y="224" width="161" height="62" fill="#000"/><use href="#sp4" x="1284" y="224" width="161" height="62" fill="url(#gR)" opacity=".75"/>
<rect x="1454" y="224" width="153" height="62" fill="#0c160c"/><use href="#web" x="1454" y="224" width="153" height="62"/><use href="#sp4" x="1454" y="224" width="153" height="62" fill="url(#gG)"/>
<rect x="1617" y="224" width="152" height="62" fill="#0c160c"/><use href="#web" x="1617" y="224" width="152" height="62"/><use href="#sp4" x="1617" y="224" width="152" height="62" fill="url(#gG)"/><use href="#sp4" x="1617" y="224" width="152" height="62" fill="url(#gY)" opacity=".6"/>

<rect x="1284" y="496" width="161" height="65" fill="#000"/><use href="#sp8" x="1284" y="496" width="161" height="65" fill="url(#gR)" opacity=".75"/>
<rect x="1454" y="496" width="153" height="65" fill="#0c160c"/><use href="#web" x="1454" y="496" width="153" height="65"/><use href="#sp8" x="1454" y="496" width="153" height="65" fill="url(#gG)"/>
<rect x="1617" y="496" width="152" height="65" fill="#0c160c"/><use href="#web" x="1617" y="496" width="152" height="65"/><use href="#sp8" x="1617" y="496" width="152" height="65" fill="url(#gG)"/><use href="#sp8" x="1617" y="496" width="152" height="65" fill="url(#gY)" opacity=".6"/>
</g>
<!-- tiles: cluster rows -->
<g>
<rect x="1284" y="288" width="161" height="60" fill="#000"/><use href="#rdF" x="1284" y="288" width="161" height="60" opacity=".6"/>
<rect x="1454" y="288" width="153" height="60" fill="#050805"/><use href="#cl5" x="1454" y="288" width="153" height="60"/>
<rect x="1617" y="288" width="152" height="60" fill="#050805"/><use href="#cl5" x="1617" y="288" width="152" height="60"/>

<rect x="1284" y="352" width="161" height="64" fill="#000"/><use href="#rdF" x="1284" y="352" width="161" height="64"/>
<rect x="1454" y="352" width="153" height="64" fill="#050805"/><use href="#cl6" x="1454" y="352" width="153" height="64"/>
<rect x="1617" y="352" width="152" height="64" fill="#050805"/><use href="#cl6" x="1617" y="352" width="152" height="64"/>

<rect x="1284" y="421" width="161" height="72" fill="#000"/><use href="#rdM" x="1284" y="421" width="161" height="72"/>
<rect x="1454" y="421" width="153" height="72" fill="#050805"/><use href="#cl7" x="1454" y="421" width="153" height="72"/>
<rect x="1617" y="421" width="152" height="72" fill="#050805"/><use href="#cl7" x="1617" y="421" width="152" height="72"/><use href="#rdM" x="1617" y="421" width="152" height="72" opacity=".8"/>

<rect x="1284" y="563" width="161" height="72" fill="#000"/><use href="#rdM" x="1284" y="563" width="161" height="72"/>
<rect x="1454" y="563" width="153" height="72" fill="#050805"/><use href="#cl9" x="1454" y="563" width="153" height="72"/>
<rect x="1617" y="563" width="152" height="72" fill="#050805"/><use href="#cl9" x="1617" y="563" width="152" height="72"/><use href="#rdM" x="1617" y="563" width="152" height="72" opacity=".8"/>

<rect x="1284" y="639" width="161" height="65" fill="#000"/><use href="#rdF" x="1284" y="639" width="161" height="65" opacity=".5"/>
<rect x="1454" y="639" width="153" height="65" fill="#050805"/><use href="#cl10" x="1454" y="639" width="153" height="65"/>
<rect x="1617" y="639" width="152" height="65" fill="#050805"/><use href="#cl10" x="1617" y="639" width="152" height="65"/>

<rect x="1284" y="707" width="161" height="70" fill="#000"/><use href="#rdF" x="1284" y="707" width="161" height="70" opacity=".5"/>
<rect x="1454" y="707" width="153" height="70" fill="#050805"/><use href="#cl11" x="1454" y="707" width="153" height="70"/>
<rect x="1617" y="707" width="152" height="70" fill="#050805"/><use href="#cl11" x="1617" y="707" width="152" height="70"/>

<rect x="1284" y="782" width="161" height="79" fill="#000"/><use href="#rdM" x="1284" y="782" width="161" height="79"/>
<rect x="1454" y="782" width="153" height="79" fill="#050805"/><use href="#cl12" x="1454" y="782" width="153" height="79"/>
<rect x="1617" y="782" width="152" height="79" fill="#050805"/><use href="#cl12" x="1617" y="782" width="152" height="79"/><use href="#rdM" x="1617" y="782" width="152" height="79" opacity=".8"/>
</g>
<!-- tile borders -->
<g fill="none" stroke="#bdbdbd" stroke-width="1">
<rect x="1284" y="38" width="161" height="61"/><rect x="1454" y="38" width="153" height="61"/><rect x="1617" y="38" width="152" height="61"/>
<rect x="1284" y="101" width="161" height="58"/><rect x="1454" y="101" width="153" height="58"/><rect x="1617" y="101" width="152" height="58"/>
<rect x="1284" y="161" width="161" height="58"/><rect x="1454" y="161" width="153" height="58"/><rect x="1617" y="161" width="152" height="58"/>
<rect x="1284" y="224" width="161" height="62"/><rect x="1454" y="224" width="153" height="62"/><rect x="1617" y="224" width="152" height="62"/>
<rect x="1284" y="288" width="161" height="60"/><rect x="1454" y="288" width="153" height="60"/><rect x="1617" y="288" width="152" height="60"/>
<rect x="1284" y="352" width="161" height="64"/><rect x="1454" y="352" width="153" height="64"/><rect x="1617" y="352" width="152" height="64"/>
<rect x="1284" y="421" width="161" height="72"/><rect x="1454" y="421" width="153" height="72"/><rect x="1617" y="421" width="152" height="72"/>
<rect x="1284" y="496" width="161" height="65"/><rect x="1454" y="496" width="153" height="65"/><rect x="1617" y="496" width="152" height="65"/>
<rect x="1284" y="563" width="161" height="72"/><rect x="1454" y="563" width="153" height="72"/><rect x="1617" y="563" width="152" height="72"/>
<rect x="1284" y="639" width="161" height="65"/><rect x="1454" y="639" width="153" height="65"/><rect x="1617" y="639" width="152" height="65"/>
<rect x="1284" y="707" width="161" height="70"/><rect x="1454" y="707" width="153" height="70"/><rect x="1617" y="707" width="152" height="70"/>
<rect x="1284" y="782" width="161" height="79"/><rect x="1454" y="782" width="153" height="79"/><rect x="1617" y="782" width="152" height="79"/>
</g>
</svg>
</body></html>
